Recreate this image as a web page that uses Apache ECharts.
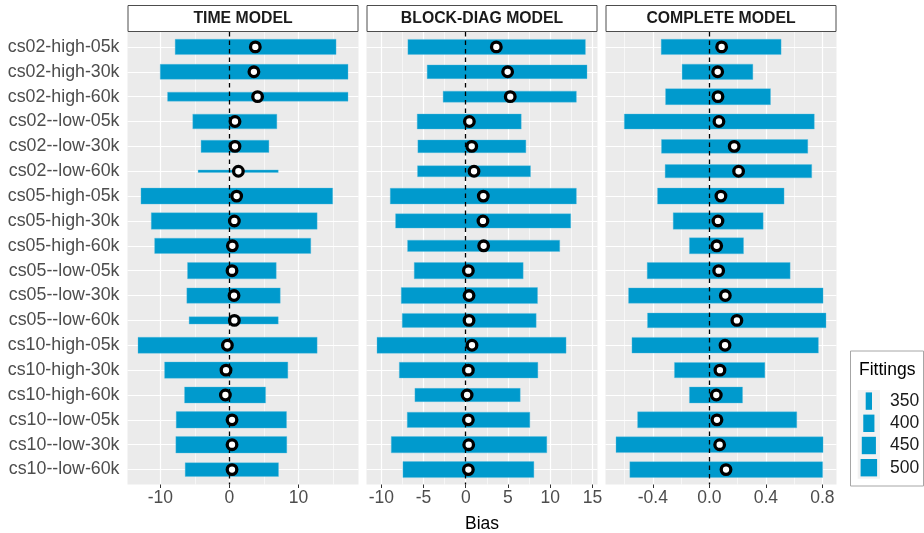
<!DOCTYPE html>
<html>
<head>
<meta charset="utf-8">
<script src="https://cdn.jsdelivr.net/npm/echarts@6/dist/echarts.min.js"></script>
<style>
  html, body { margin: 0; padding: 0; background: #ffffff; }
  #chart { width: 924px; height: 533px; }
</style>
</head>
<body>
<div id="chart"></div>
<script>
// Scenario labels, top to bottom
const categories = [
  'cs02-high-05k', 'cs02-high-30k', 'cs02-high-60k',
  'cs02--low-05k', 'cs02--low-30k', 'cs02--low-60k',
  'cs05-high-05k', 'cs05-high-30k', 'cs05-high-60k',
  'cs05--low-05k', 'cs05--low-30k', 'cs05--low-60k',
  'cs10-high-05k', 'cs10-high-30k', 'cs10-high-60k',
  'cs10--low-05k', 'cs10--low-30k', 'cs10--low-60k'
];

const panelTitles = ['TIME MODEL', 'BLOCK-DIAG MODEL', 'COMPLETE MODEL'];

// TIME MODEL: bias range, mean bias and number of successful fittings
const timeLow  = [-7.85, -10.01, -8.95, -5.30, -4.10, -4.53, -12.80, -11.31, -10.82, -6.06, -6.16, -5.83, -13.23, -9.38, -6.49, -7.70, -7.75, -6.40];
const timeHigh = [15.44, 17.17, 17.17, 6.87, 5.72, 7.07, 14.95, 12.70, 11.78, 6.78, 7.36, 7.07, 12.70, 8.46, 5.24, 8.27, 8.31, 7.11];
const timeMean = [3.75, 3.55, 4.08, 0.81, 0.81, 1.30, 1.05, 0.72, 0.43, 0.38, 0.67, 0.72, -0.29, -0.49, -0.58, 0.38, 0.38, 0.38];
const timeFittings = [473, 467, 373, 461, 417, 338, 489, 500, 473, 495, 473, 357, 489, 495, 489, 500, 500, 442];

// BLOCK-DIAG MODEL
const blockLow  = [-6.85, -4.57, -2.68, -5.75, -5.67, -5.71, -8.94, -8.31, -6.89, -6.10, -7.64, -7.52, -10.51, -7.87, -6.02, -6.93, -8.82, -7.44];
const blockHigh = [14.17, 14.36, 13.10, 6.57, 7.12, 7.67, 13.10, 12.43, 11.13, 6.80, 8.50, 8.34, 11.88, 8.54, 6.45, 7.59, 9.60, 8.07];
const blockMean = [3.62, 4.96, 5.27, 0.43, 0.71, 0.98, 2.08, 2.04, 2.12, 0.31, 0.39, 0.39, 0.74, 0.31, 0.16, 0.31, 0.35, 0.31];
const blockFittings = [467, 442, 398, 467, 424, 398, 482, 453, 402, 495, 489, 447, 489, 482, 434, 473, 495, 489];

// COMPLETE MODEL
const completeLow  = [-0.341, -0.193, -0.310, -0.602, -0.339, -0.313, -0.367, -0.256, -0.141, -0.440, -0.572, -0.438, -0.548, -0.247, -0.141, -0.508, -0.661, -0.563];
const completeHigh = [0.508, 0.308, 0.433, 0.743, 0.697, 0.725, 0.529, 0.381, 0.242, 0.572, 0.805, 0.826, 0.772, 0.393, 0.235, 0.619, 0.805, 0.802];
const completeMean = [0.087, 0.059, 0.061, 0.068, 0.176, 0.207, 0.082, 0.061, 0.052, 0.066, 0.113, 0.195, 0.111, 0.075, 0.049, 0.054, 0.073, 0.118];
const completeFittings = [473, 473, 489, 467, 442, 434, 489, 500, 489, 495, 473, 461, 482, 473, 489, 489, 482, 482];

// Axis tick labels per panel
const timeTicks = [-10, 0, 10];
const blockTicks = [-10, -5, 0, 5, 10, 15];
const completeTicks = [-0.4, 0.0, 0.4, 0.8];
const tickDecimals = [0, 0, 1];

// Legend breaks for the fittings size scale
const fittingsBreaks = [350, 400, 450, 500];

const panels = [
  { low: timeLow, high: timeHigh, mean: timeMean, fit: timeFittings, ticks: timeTicks },
  { low: blockLow, high: blockHigh, mean: blockMean, fit: blockFittings, ticks: blockTicks },
  { low: completeLow, high: completeHigh, mean: completeMean, fit: completeFittings, ticks: completeTicks }
];

// ---- layout ----
const FONT = 'Liberation Sans';
const BAR = '#009ACD';
const PANEL_BG = '#EBEBEB';
const plotTop = 32;
const plotHeight = 452.5;
const panelWidth = 231;
const panelLefts = [127.5, 366.5, 605.5];

// Size scale: thickness grows with sqrt of the rescaled number of fittings
const allFit = timeFittings.concat(blockFittings, completeFittings);
const fitMin = Math.min.apply(null, allFit);
const fitMax = Math.max.apply(null, allFit);
function thickness(v) {
  const t = Math.max(0, Math.min(1, (v - fitMin) / (fitMax - fitMin)));
  return 2.5 + 14 * Math.sqrt(t);
}

// Continuous range with 5% padding on each side
function paddedRange(p) {
  const lo = Math.min.apply(null, p.low.concat(p.mean));
  const hi = Math.max.apply(null, p.high.concat(p.mean));
  const pad = (hi - lo) * 0.05;
  return [lo - pad, hi + pad];
}

const grids = [], xAxes = [], yAxes = [], series = [], graphics = [];
const rowIdx = categories.map((_, i) => i);

panels.forEach((p, k) => {
  const [xmin, xmax] = paddedRange(p);
  const step = p.ticks[1] - p.ticks[0];
  const minor = p.ticks.map(v => v - step / 2)
    .concat([p.ticks[p.ticks.length - 1] + step / 2])
    .filter(v => v > xmin && v < xmax);

  grids.push({
    left: panelLefts[k], top: plotTop, width: panelWidth, height: plotHeight,
    show: true, backgroundColor: PANEL_BG, borderWidth: 0
  });

  // minor vertical grid lines
  xAxes.push({
    type: 'value', gridIndex: k, min: xmin, max: xmax, position: 'bottom',
    axisLine: { show: false },
    axisTick: { show: false, customValues: minor },
    axisLabel: { show: false, customValues: minor },
    splitLine: { show: true, lineStyle: { color: '#FFFFFF', width: 0.6 } }
  });
  // major vertical grid lines with labels
  xAxes.push({
    type: 'value', gridIndex: k, min: xmin, max: xmax, position: 'bottom',
    axisLine: { show: false },
    axisTick: { show: true, length: 3.5, customValues: p.ticks, lineStyle: { color: '#333333', width: 1 } },
    axisLabel: {
      show: true, customValues: p.ticks, margin: 5,
      color: '#4D4D4D', fontSize: 17.5, fontFamily: FONT,
      formatter: v => Number(v).toFixed(tickDecimals[k])
    },
    splitLine: { show: true, lineStyle: { color: '#FFFFFF', width: 1.2 } }
  });

  yAxes.push({
    type: 'value', gridIndex: k, min: -0.6, max: categories.length - 0.4, inverse: true,
    axisLine: { show: false },
    axisTick: { show: k === 0, length: 4.5, customValues: rowIdx, lineStyle: { color: '#333333', width: 1 } },
    axisLabel: {
      show: k === 0, customValues: rowIdx, margin: 8,
      color: '#4D4D4D', fontSize: 17.8, fontFamily: FONT,
      formatter: v => categories[Math.round(v)]
    },
    splitLine: { show: true, lineStyle: { color: '#FFFFFF', width: 1.2 } }
  });

  const rangeData = categories.map((_, i) => [p.low[i], p.high[i], i, p.fit[i]]);
  series.push({
    type: 'custom', xAxisIndex: 2 * k + 1, yAxisIndex: k, z: 2,
    encode: { x: [0, 1], y: 2 },
    data: rangeData,
    renderItem: function (params, api) {
      const a = api.coord([api.value(0), api.value(2)]);
      const b = api.coord([api.value(1), api.value(2)]);
      const h = thickness(api.value(3));
      return {
        type: 'rect',
        shape: { x: a[0], y: a[1] - h / 2, width: b[0] - a[0], height: h },
        style: { fill: BAR, stroke: 'rgba(90,190,225,0.6)', lineWidth: 0.6 }
      };
    },
    markLine: {
      silent: true, symbol: 'none', z: 5,
      label: { show: false },
      lineStyle: { color: '#000000', type: [4.5, 4], width: 1.3 },
      data: [{ xAxis: 0 }]
    }
  });

  series.push({
    type: 'scatter', xAxisIndex: 2 * k + 1, yAxisIndex: k, z: 10,
    symbol: 'circle', symbolSize: 9.6,
    itemStyle: { color: '#FFFFFF', borderColor: '#000000', borderWidth: 3.3, opacity: 1 },
    data: categories.map((_, i) => [p.mean[i], i])
  });

  // facet strip
  graphics.push({
    type: 'rect', silent: true,
    shape: { x: panelLefts[k] + 0.5, y: 5.5, width: panelWidth - 1, height: 26 },
    style: { fill: '#FFFFFF', stroke: '#4D4D4D', lineWidth: 1 }
  });
  graphics.push({
    type: 'text', silent: true,
    x: panelLefts[k] + panelWidth / 2, y: 19,
    style: {
      text: panelTitles[k], fill: '#1A1A1A', font: 'bold 15.8px "' + FONT + '"',
      align: 'center', verticalAlign: 'middle'
    }
  });
});

// x axis title
graphics.push({
  type: 'text', silent: true,
  x: (panelLefts[0] + panelLefts[2] + panelWidth) / 2, y: 524,
  style: { text: 'Bias', fill: '#000000', font: '17.5px "' + FONT + '"', align: 'center', verticalAlign: 'middle' }
});

// size legend
const lgX = 850.5, lgY = 351, keyX = 857.7, keyTop = 390, keyH = 22.2, keyW = 22.3;
graphics.push({
  type: 'rect', silent: true,
  shape: { x: lgX, y: lgY, width: 73, height: 135 },
  style: { fill: '#FFFFFF', stroke: '#A6A6A6', lineWidth: 1 }
});
graphics.push({
  type: 'text', silent: true, x: 859, y: 370,
  style: { text: 'Fittings', fill: '#000000', font: '17.5px "' + FONT + '"', align: 'left', verticalAlign: 'middle' }
});
graphics.push({
  type: 'rect', silent: true,
  shape: { x: keyX, y: keyTop, width: keyW, height: keyH * fittingsBreaks.length },
  style: { fill: '#F2F2F2' }
});
fittingsBreaks.forEach((v, i) => {
  const cy = keyTop + keyH * (i + 0.5);
  const w = thickness(v);
  graphics.push({
    type: 'rect', silent: true,
    shape: { x: keyX + keyW / 2 - w / 2, y: cy - 8.7, width: w, height: 17.4 },
    style: { fill: BAR }
  });
  graphics.push({
    type: 'text', silent: true, x: 890, y: cy,
    style: { text: String(v), fill: '#1A1A1A', font: '17.5px "' + FONT + '"', align: 'left', verticalAlign: 'middle' }
  });
});

const chart = echarts.init(document.getElementById('chart'), null, { renderer: 'canvas' });
chart.setOption({
  animation: false,
  backgroundColor: '#FFFFFF',
  textStyle: { fontFamily: FONT },
  grid: grids,
  xAxis: xAxes,
  yAxis: yAxes,
  series: series,
  graphic: graphics
});
</script>
</body>
</html>
